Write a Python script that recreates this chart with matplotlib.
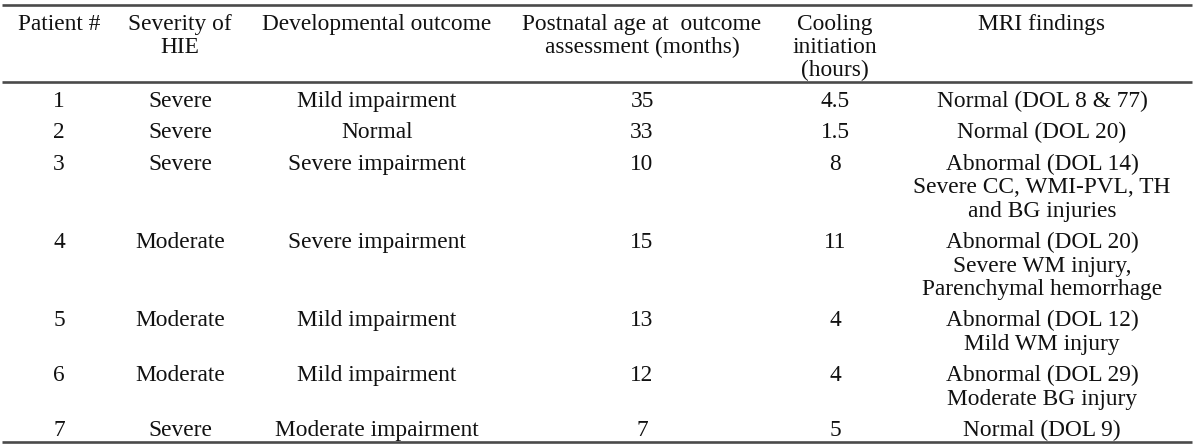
import matplotlib.pyplot as plt

# table content
headers = ["Patient #", "Severity of\nHIE", "Developmental outcome",
           "Postnatal age at  outcome\nassessment (months)",
           "Cooling\ninitiation\n(hours)", "MRI findings"]
patient = ["1", "2", "3", "4", "5", "6", "7"]
severity = ["Severe", "Severe", "Severe", "Moderate", "Moderate", "Moderate", "Severe"]
outcome = ["Mild impairment", "Normal", "Severe impairment", "Severe impairment",
           "Mild impairment", "Mild impairment", "Moderate impairment"]
age_months = ["35", "33", "10", "15", "13", "12", "7"]
cooling_hours = ["4.5", "1.5", "8", "11", "4", "4", "5"]
mri = ["Normal (DOL 8 & 77)",
       "Normal (DOL 20)",
       "Abnormal (DOL 14)\nSevere CC, WMI-PVL, TH\nand BG injuries",
       "Abnormal (DOL 20)\nSevere WM injury,\nParenchymal hemorrhage",
       "Abnormal (DOL 12)\nMild WM injury",
       "Abnormal (DOL 29)\nModerate BG injury",
       "Normal (DOL 9)"]

col_x = [59, 180, 377, 642, 835, 1042]   # Spaltenmitten in Pixel
line_h = 23.5                            # Zeilenabstand innerhalb einer Zelle
row_gap = 31.3                           # Abstand zwischen Tabellenzeilen
fs = 16.8
font = "Liberation Serif"
txt_color = "#111111"
rule_color = "#4a4a4a"

fig = plt.figure(figsize=(12, 4.48), dpi=100)
ax = fig.add_axes([0, 0, 1, 1])
ax.set_xlim(0, 1200)
ax.set_ylim(448, 0)
ax.axis("off")


def cell(x, y_first, text, step=line_h):
    # schreibt eine Zelle Zeile fuer Zeile, y_first = Mitte der ersten Zeile
    for k, line in enumerate(text.split("\n")):
        ax.text(x, y_first + k * step + 7.7, line, ha="center", va="baseline",
                fontsize=fs, family=font, color=txt_color)


# Kopfzeile
for x, h in zip(col_x, headers):
    cell(x, 22, h, step=23)

# Linien
for y in (5, 82.5, 442):
    ax.plot([2, 1192], [y, y], color=rule_color, lw=1.9, solid_capstyle="butt")

# Datenzeilen
y = 99.5
for i in range(len(patient)):
    row = [patient[i], severity[i], outcome[i], age_months[i], cooling_hours[i], mri[i]]
    for x, txt in zip(col_x, row):
        cell(x, y, txt)
    n = max(t.count("\n") + 1 for t in row)
    y += (n - 1) * line_h + row_gap

fig.savefig("out.png", dpi=100)
